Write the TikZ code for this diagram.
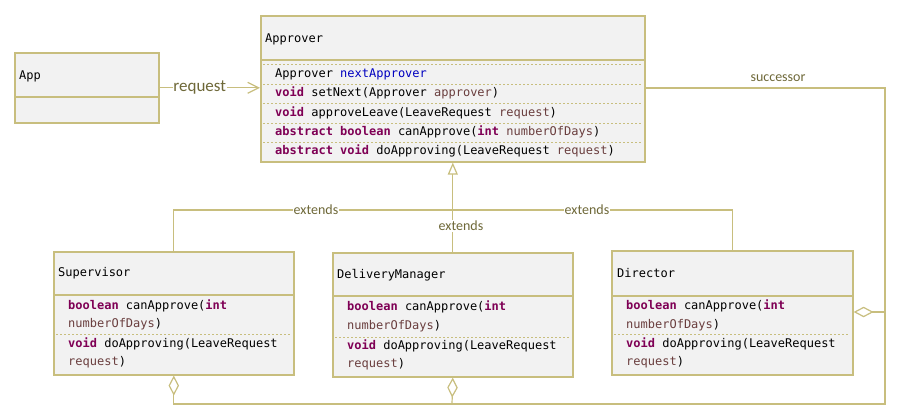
\documentclass[tikz,border=0pt]{standalone}
\usepackage{fontspec}
\setmonofont{DejaVu Sans Mono}
\newfontfamily\lblfont{Carlito}
\usetikzlibrary{arrows.meta,shadows}
\definecolor{bord}{HTML}{C8BE7E}
\definecolor{boxfill}{HTML}{F2F2F2}
\definecolor{kwc}{HTML}{7F0055}
\definecolor{parc}{HTML}{6A3E3E}
\definecolor{fldc}{HTML}{0000C0}
\definecolor{lblc}{HTML}{6E6838}
\newcommand{\KW}[1]{\textcolor{kwc}{\bfseries #1}}
\newcommand{\PR}[1]{\textcolor{parc}{#1}}
\newcommand{\FL}[1]{\textcolor{fldc}{#1}}
\tikzset{
  umlbox/.style={draw=bord, line width=1.6pt, fill=boxfill, inner sep=0pt, anchor=north west,
    drop shadow={shadow xshift=1.5pt, shadow yshift=-1.5pt, opacity=0.25, fill=black!60}},
  sepline/.style={draw=bord, line width=1.6pt},
  dashsep/.style={draw=bord, line width=0.6pt, dash pattern=on 2pt off 2pt},
  txt/.style={anchor=west, inner sep=0pt, text height=9pt, text depth=3pt,
    font=\ttfamily\fontsize{12}{14}\selectfont, text=black},
  conn/.style={draw=bord, line width=1.2pt},
  lbl/.style={font=\lblfont\fontsize{14}{16}\selectfont, text=lblc, inner sep=1pt},
  diam/.style={-{Diamond[open,length=20pt,width=10.5pt,fill=white]}},
}
\begin{document}
\begin{tikzpicture}[x=1pt,y=-1pt]
\useasboundingbox (0,0) rectangle (899,418);

% App
\node[umlbox, minimum width=144pt, minimum height=70pt] (app) at (14,52) {};
\draw[sepline] (app.west |- 0,97) -- (app.east |- 0,97);
\node[txt] (appname) at (19,76) {App};

% Approver
\node[umlbox, minimum width=384pt, minimum height=146pt] (apr) at (260,15) {};
\draw[sepline] (apr.west |- 0,60) -- (apr.east |- 0,60);
\foreach \yy in {64,84,103,123,142}{\draw[dashsep] (263,\yy) -- (641,\yy);}
\node[txt] (aprname) at (265,39) {Approver};
\node[txt] (apr1) at (275,74) {Approver \FL{nextApprover}};
\node[txt] (apr2) at (275,93) {\KW{void} setNext(Approver \PR{approver})};
\node[txt] (apr3) at (275,113) {\KW{void} approveLeave(LeaveRequest \PR{request})};
\node[txt] (apr4) at (275,132) {\KW{abstract boolean} canApprove(\KW{int} \PR{numberOfDays})};
\node[txt] (apr5) at (275,151) {\KW{abstract void} doApproving(LeaveRequest \PR{request})};

% Supervisor
\node[umlbox, minimum width=240pt, minimum height=123pt] (sup) at (53,251) {};
\draw[sepline] (sup.west |- 0,295) -- (sup.east |- 0,295);
\draw[dashsep] (56,334) -- (290,334);
\node[txt] (supname) at (58,273) {Supervisor};
\node[txt] (sup1) at (68,306) {\KW{boolean} canApprove(\KW{int}};
\node[txt] (sup2) at (68,324) {\PR{numberOfDays})};
\node[txt] (sup3) at (68,344) {\KW{void} doApproving(LeaveRequest};
\node[txt] (sup4) at (68,362) {\PR{request})};

% DeliveryManager
\node[umlbox, minimum width=240pt, minimum height=124pt] (dm) at (332,252) {};
\draw[sepline] (dm.west |- 0,296) -- (dm.east |- 0,296);
\draw[dashsep] (335,337) -- (569,337);
\node[txt] (dmname) at (337,275) {DeliveryManager};
\node[txt] (dm1) at (347,307) {\KW{boolean} canApprove(\KW{int}};
\node[txt] (dm2) at (347,326) {\PR{numberOfDays})};
\node[txt] (dm3) at (347,346) {\KW{void} doApproving(LeaveRequest};
\node[txt] (dm4) at (347,364) {\PR{request})};

% Director
\node[umlbox, minimum width=241pt, minimum height=124pt] (dir) at (611,250) {};
\draw[sepline] (dir.west |- 0,296) -- (dir.east |- 0,296);
\draw[dashsep] (614,334) -- (849,334);
\node[txt] (dirname) at (617,274) {Director};
\node[txt] (dir1) at (626,306) {\KW{boolean} canApprove(\KW{int}};
\node[txt] (dir2) at (626,325) {\PR{numberOfDays})};
\node[txt] (dir3) at (626,344) {\KW{void} doApproving(LeaveRequest};
\node[txt] (dir4) at (626,362) {\PR{request})};

% request association
\draw[conn, -{Straight Barb[length=11pt,width=11pt]}] (app.east) -- (app.east -| apr.west)
  node[lbl, pos=0.40, fill=white, inner sep=0.5pt, font=\lblfont\fontsize{17}{19}\selectfont] (reqlbl) {request};

% generalisation
\coordinate (ext) at (0,210);
\draw[conn] (sup.north) |- (dir.north |- ext) -- (dir.north);
\draw[conn, -{Triangle[open,length=12pt,width=10pt,fill=white]}] (dm.north) -- (dm.north |- apr.south);
\node[lbl, fill=white] (ext1) at (316,210) {extends};
\node[lbl, fill=white] (ext2) at (587,210) {extends};
\node[lbl, fill=white] (ext3) at (461,226) {extends};

% successor aggregation
\coordinate (tr) at (885,88);
\coordinate (br) at (885,404);
\coordinate (dmj) at (452,404);
\coordinate (dirj) at (885,312);
\draw[conn, diam] (apr.east |- tr) -- (tr) -- (br) -| (sup.south);
\draw[conn, diam] (dmj) -- (dm.south);
\draw[conn, diam] (dirj) -- (dirj -| dir.east);
\node[lbl] (succ) at (778,78) {successor};
\end{tikzpicture}
\end{document}
